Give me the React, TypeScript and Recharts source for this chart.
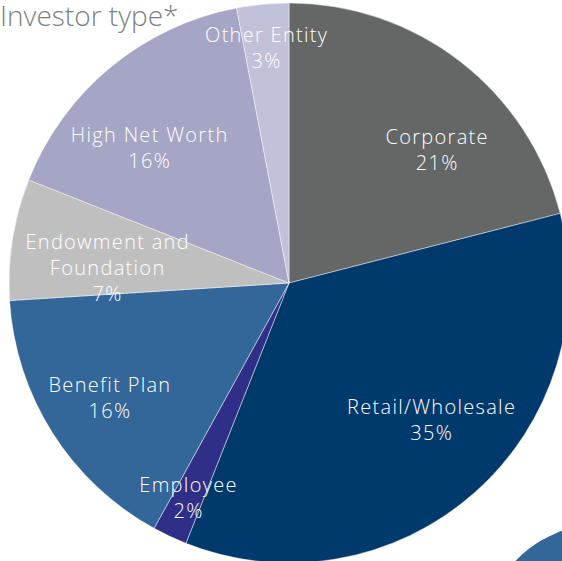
import React from 'react';
import { PieChart, Pie, Cell } from 'recharts';

const categories = [
  'Corporate',
  'Retail/Wholesale',
  'Employee',
  'Benefit Plan',
  'Endowment and Foundation',
  'High Net Worth',
  'Other Entity',
];
const shares = [21, 35, 2, 16, 7, 16, 3];
const accentShape = [1];

const colors = ['#646765', '#00396c', '#2f2f88', '#336699', '#bfbfbf', '#a5a5c6', '#c1c1d9'];

// label placement tweaks (distance from centre, angle nudge in degrees)
const labelPlacement = [
  [200, -10],
  [197, 5],
  [236, 0],
  [212, 0],
  [182, 4],
  [195, 6],
  [237, 0],
];

const data = categories.map((name, i) => ({ name, value: shares[i] }));

const FONT = '"Open Sans", "DejaVu Sans", sans-serif';
const RAD = Math.PI / 180;

const wrap = (name: string) =>
  name.includes(' and ') ? [name.slice(0, name.indexOf(' and ') + 4), name.slice(name.indexOf(' and ') + 5)] : [name];

const renderLabel = (props: any) => {
  const { cx, cy, midAngle, index, name, value } = props;
  const [dist, nudge] = labelPlacement[index];
  const a = (midAngle + nudge) * RAD;
  const x = cx + dist * Math.cos(a);
  const y = cy - dist * Math.sin(a);
  const lines = [...wrap(name), `${value}%`];
  const lh = 26;
  const top = y - ((lines.length - 1) * lh) / 2;
  return (
    <text
      x={x}
      y={top}
      fill="#ffffff"
      textAnchor="middle"
      dominantBaseline="central"
      fontFamily={FONT}
      fontSize={20}
      fontWeight={300}
      letterSpacing={1.3}
    >
      {lines.map((l, i) => (
        <tspan key={i} x={x} y={top + i * lh}>
          {l}
        </tspan>
      ))}
    </text>
  );
};

export default function App() {
  return (
    <div style={{ position: 'fixed', left: 0, top: 0, width: 562, height: 561, background: '#ffffff', overflow: 'hidden' }}>
      <PieChart width={562} height={561} margin={{ top: 0, right: 0, bottom: 0, left: 0 }}>
        <Pie
          data={accentShape.map((v) => ({ value: v }))}
          dataKey="value"
          cx={602}
          cy={644}
          outerRadius={120}
          stroke="none"
          fill="#336699"
          isAnimationActive={false}
        />
        <Pie
          data={data}
          dataKey="value"
          nameKey="name"
          cx={289}
          cy={283}
          outerRadius={280}
          startAngle={90}
          endAngle={-270}
          stroke="rgba(255,255,255,0.45)"
          strokeWidth={1}
          label={renderLabel}
          labelLine={false}
          isAnimationActive={false}
        >
          {data.map((d, i) => (
            <Cell key={d.name} fill={colors[i]} />
          ))}
        </Pie>
      </PieChart>
      <div
        style={{
          position: 'absolute',
          left: 0,
          top: 1,
          lineHeight: 1,
          fontFamily: FONT,
          fontSize: 28,
          fontWeight: 300,
          color: '#7f7f7f',
          whiteSpace: 'nowrap',
        }}
      >
        Investor type*
      </div>
    </div>
  );
}
